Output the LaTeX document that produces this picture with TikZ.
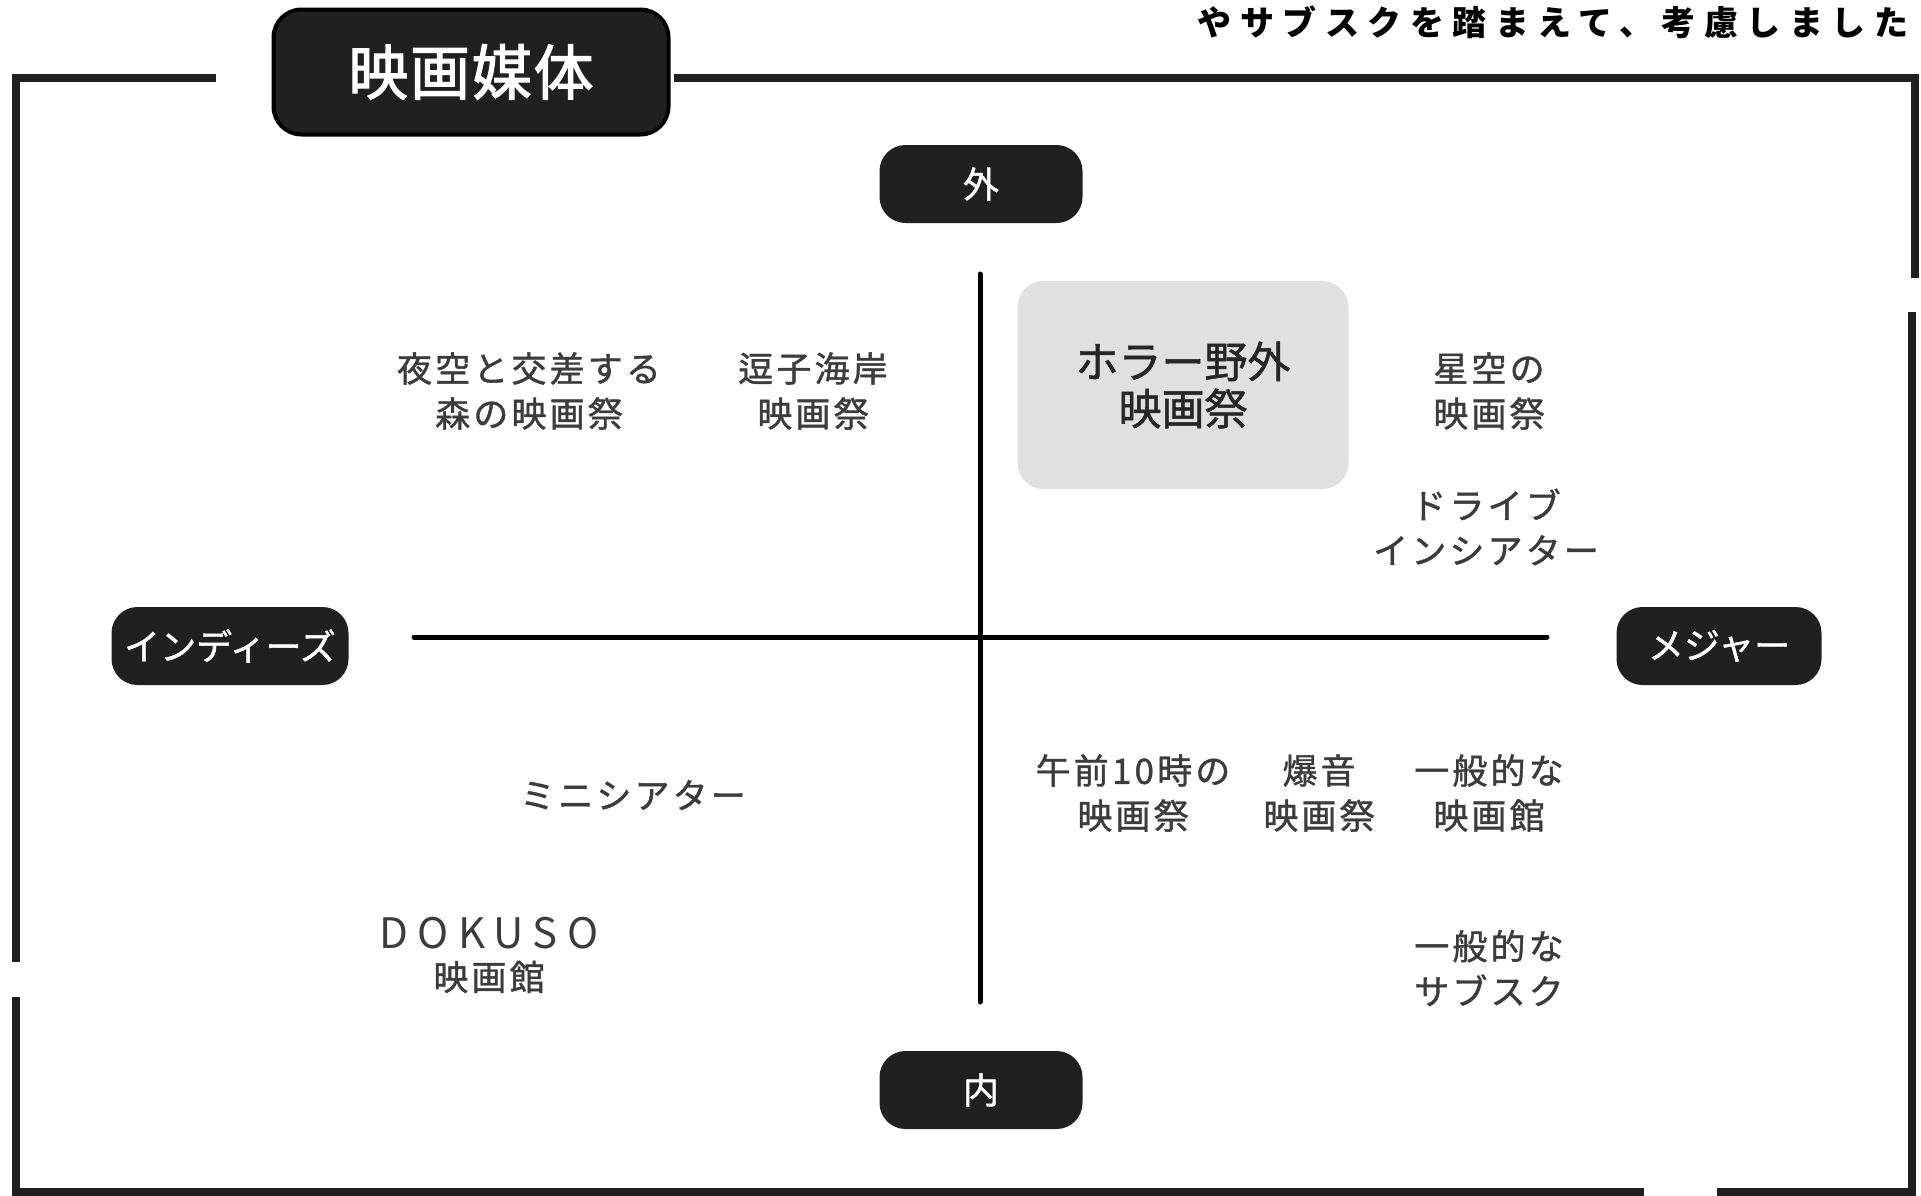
\documentclass[tikz,border=0pt]{standalone}
\usepackage{fontspec}
\setmainfont{Noto Sans CJK JP}
\newfontfamily\itemfont[LetterSpace=9, FakeBold=1.2]{Noto Sans CJK JP}
\newfontfamily\tagfont[FakeBold=1.2]{Noto Sans CJK JP}
\newfontfamily\titlefont[LetterSpace=3, FakeBold=2]{Noto Sans CJK JP}
\newfontfamily\notefont[LetterSpace=25]{Noto Sans CJK JP}
\newfontfamily\latinfont[LetterSpace=22]{Noto Sans CJK JP}
\usetikzlibrary{positioning}
\definecolor{boxdark}{HTML}{1F201F}
\definecolor{itemgray}{HTML}{3C3C3C}
\definecolor{hlgray}{HTML}{DFE0DF}

\begin{document}
\begin{tikzpicture}[
  x=1pt, y=-1pt,
  tag/.style={fill=boxdark, text=white, rounded corners=26pt, inner sep=0pt,
    minimum height=78pt, font=\tagfont\fontsize{36}{40}\selectfont},
  itemtext/.style={align=center, text=itemgray, inner sep=0pt,
    font=\itemfont\fontsize{35}{45}\selectfont},
  rimline/.style={line width=8pt, draw=boxdark},
  axisline/.style={line width=5pt, line cap=round}
]
\useasboundingbox (0,0) rectangle (1921,1195);

% outer frame
\draw[rimline] (216,78) -- (16,78) -- (16,962);
\draw[rimline] (16,997) -- (16,1192) -- (1644,1192);
\draw[rimline] (1717,1192) -- (1912,1192) -- (1912,312);
\draw[rimline] (1915,278) -- (1915,78) -- (674,78);

% title and note
\node[draw=black, line width=4pt, fill=boxdark, text=white, rounded corners=28pt,
  minimum width=395pt, minimum height=125pt, font=\titlefont\fontsize{60}{62}\selectfont]
  (title) at (471,72) {映画媒体};
\node[inner sep=0pt, font=\notefont\bfseries\fontsize{34}{36}\selectfont]
  (note) at (1553,22) {やサブスクを踏まえて、考慮しました};

% axes
\coordinate (vtop) at (980,274);
\coordinate (vbot) at (980,1002);
\coordinate (hleft) at (414,637);
\coordinate (hright) at (1547,637);
\draw[axisline] (vtop) -- (vbot);
\draw[axisline] (hleft) -- (hright);

\node[tag, minimum width=203pt] (outside) at (981,184) {外};
\node[tag, minimum width=203pt] (inside) at (981,1090) {内};
\node[tag, minimum width=237pt] (indies) at (230,646) {インディーズ};
\node[tag, minimum width=205pt] (major) at (1719,646) {メジャー};

% upper half
\node[fill=hlgray, rounded corners=26pt, minimum width=331pt, minimum height=208pt,
  align=center, text=black!85, font=\tagfont\fontsize{43}{47}\selectfont]
  (horror) at (1183,385) {ホラー野外\\映画祭};
\node[itemtext] (mori) at (529,391) {夜空と交差する\\森の映画祭};
\node[itemtext] (zushi) at (813,391) {逗子海岸\\映画祭};
\node[itemtext] (hoshizora) at (1489,391) {星空の\\映画祭};
\node[itemtext] (drive) at (1486,527) {ドライブ\\インシアター};

% lower half
\node[itemtext] (mini) at (633,795) {ミニシアター};
\node[itemtext] (dokuso) at (489,955)
  {{\latinfont\fontsize{42}{42}\selectfont DOKUSO}\\[-3pt]映画館};
\node[itemtext] (gozen) at (1133,793) {午前10時の\\映画祭};
\node[itemtext] (bakuon) at (1319,793) {爆音\\映画祭};
\node[itemtext] (ippankan) at (1489,793) {一般的な\\映画館};
\node[itemtext] (ippansub) at (1489,968) {一般的な\\サブスク};
\end{tikzpicture}
\end{document}
